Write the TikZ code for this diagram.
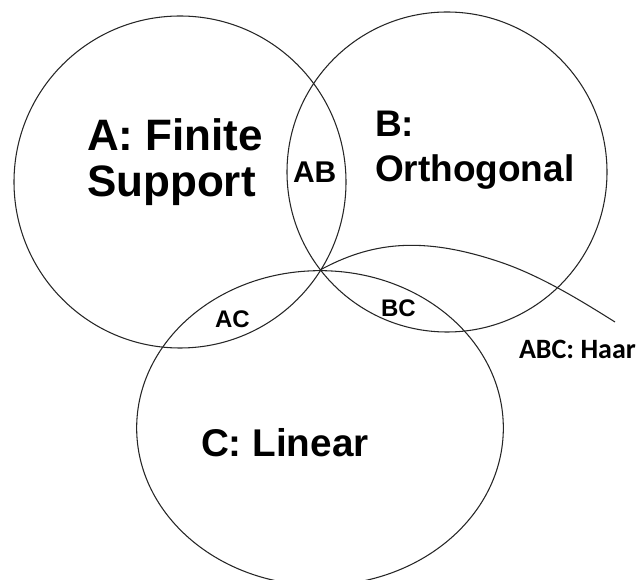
\documentclass[tikz,border=0pt]{standalone}
\usepackage{fontspec}
\setmainfont{Liberation Sans}
\newfontfamily\calfont{Carlito}
\usetikzlibrary{shapes.geometric}

\tikzset{
  setshape/.style={draw=black!85, line width=0.8pt, ellipse, inner sep=0pt, outer sep=0pt},
  setline/.style={draw=black!85, line width=0.8pt},
  lbl/.style={anchor=base west, inner sep=0pt, outer sep=0pt, font=\bfseries, text=black},
}

\begin{document}
\begin{tikzpicture}[x=0.75pt, y=-0.75pt]
  \useasboundingbox (0,0) rectangle (639,580);

  % the three sets
  \node[setshape, minimum width=249pt, minimum height=249pt] (A) at (180,182) {};
  \node[setshape, minimum width=240pt, minimum height=240pt] (B) at (447,172) {};
  \node[setshape, minimum width=275pt, minimum height=236pt] (C) at (320,428) {};

  % point shared by all three sets, and the end of the curve leading to the label
  \coordinate (abc) at (320,270);
  \coordinate (haarend) at (615,322);
  \draw[setline] (abc) .. controls (370,243) and (420,235) .. (500,262)
                       .. controls (540,275.5) and (580,300) .. (haarend);

  % set names
  \node[lbl, font=\bfseries\fontsize{33}{33}\selectfont] (a1) at (87,151) {A: Finite};
  \node[lbl, font=\bfseries\fontsize{33}{33}\selectfont] (a2) at (87,197) {Support};
  \node[lbl, font=\bfseries\fontsize{27.75}{27.75}\selectfont] (b1) at (375,137) {B:};
  \node[lbl, font=\bfseries\fontsize{27.75}{27.75}\selectfont] (b2) at (375,182) {Orthogonal};
  \node[lbl, font=\bfseries\fontsize{29}{29}\selectfont] (c1) at (201,457) {C: Linear};

  % intersections
  \node[lbl, font=\bfseries\fontsize{22.5}{22.5}\selectfont] (ab) at (293,183) {AB};
  \node[lbl, font=\bfseries\fontsize{18}{18}\selectfont] (ac) at (215,328) {AC};
  \node[lbl, font=\bfseries\fontsize{18}{18}\selectfont] (bc) at (381,317) {BC};
  \node[lbl, font=\calfont\bfseries\fontsize{21}{21}\selectfont] (haar) at (519,359) {ABC: Haar};
\end{tikzpicture}
\end{document}
